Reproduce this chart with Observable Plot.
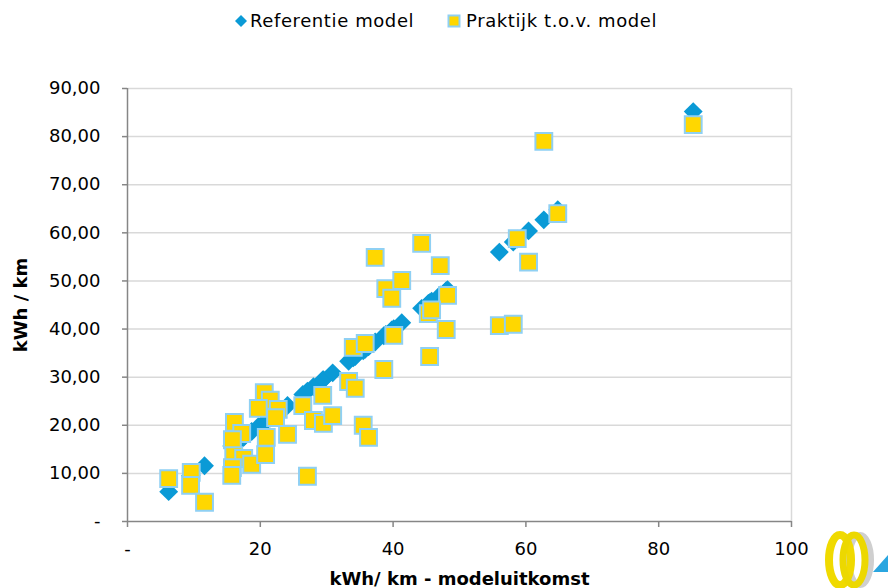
<!DOCTYPE html>
<html>
<head>
<meta charset="utf-8">
<script src="https://cdn.jsdelivr.net/npm/d3@7"></script>
<script src="https://cdn.jsdelivr.net/npm/@observablehq/plot@0.6"></script>
<style>
  html, body { margin: 0; padding: 0; background: #fff; }
  body { width: 889px; height: 588px; position: relative; overflow: hidden; font-family: "DejaVu Sans", sans-serif; }
  #legend { height: 44px; position: relative; font-size: 18px; letter-spacing: 0.6px; color: #000; }
  .item { position: absolute; top: 10px; display: flex; align-items: center; white-space: nowrap; }
  #logo { position: absolute; left: 818px; top: 522px; }
</style>
</head>
<body>
<div id="legend">
  <div class="item" style="left:234px"><svg width="14" height="14" style="margin-right:2px"><path d="M7,1 L13,7 L7,13 L1,7 Z" fill="#0a9ad6"/></svg><span>Referentie model</span></div>
  <div class="item" style="left:447px"><svg width="14" height="14" style="margin-right:5px"><rect x="1.5" y="1.5" width="11" height="11" fill="#ffd700" stroke="#8fd0f3" stroke-width="2"/></svg><span>Praktijk t.o.v. model</span></div>
</div>
<div id="chart"></div>
<svg id="logo" width="71" height="66" viewBox="0 0 71 66">
  <ellipse cx="42" cy="38" rx="11" ry="25" fill="none" stroke="#cfcfcf" stroke-width="6"/>
  <ellipse cx="22" cy="38" rx="11" ry="25" fill="none" stroke="#f0da00" stroke-width="8"/>
  <ellipse cx="36" cy="38" rx="11" ry="25" fill="none" stroke="#ecd800" stroke-width="7"/>
  <path d="M55,50 L70,33 L70,50 Z" fill="#2aa6e0"/>
</svg>
<script>
// Model outcome (x) for each vehicle, kWh/km
const modelValues = [6.2, 9.6, 9.5, 11.6, 16.1, 17.2, 15.8, 16.0, 17.5, 15.8, 15.7, 18.7,
  20.6, 21.5, 19.7, 22.7, 22.3, 20.9, 24.1, 20.8, 26.4, 29.4, 28.0, 29.5, 30.9,
  33.3, 34.3, 35.5, 36.3, 27.1, 34.0, 35.8, 38.6, 37.3, 38.9, 39.8, 41.3, 40.1,
  44.3, 47.1, 48.2, 45.3, 45.8, 48.0, 45.5, 62.7, 85.2, 64.8, 58.7, 60.4, 56.0, 58.1];
// Practice value for each vehicle, kWh/km
const practiceValues = [8.9, 10.2, 7.5, 4.0, 20.6, 18.3, 17.0, 13.7, 13.1, 11.2, 9.6, 11.9,
  26.8, 25.2, 23.5, 23.3, 21.6, 17.5, 18.1, 13.9, 24.1, 26.2, 21.0, 20.4, 22.0,
  29.1, 27.7, 20.0, 17.5, 9.4, 36.2, 37.0, 31.6, 54.9, 48.4, 46.4, 50.1, 38.7,
  57.8, 53.2, 47.0, 43.2, 44.0, 39.9, 34.3, 79.0, 82.5, 64.0, 58.8, 53.9, 40.7, 41.0];
const xTicks = [0, 20, 40, 60, 80, 100];
const yTicks = [0, 10, 20, 30, 40, 50, 60, 70, 80, 90];
const seriesNames = ["Referentie model", "Praktijk t.o.v. model"];
const xTitle = "kWh/ km - modeluitkomst";
const yTitle = "kWh / km";

const refData = modelValues.map(m => ({x: m, y: m}));
const pracData = modelValues.map((m, i) => ({x: m, y: practiceValues[i]}));

const fmtY = d => d === 0 ? "-" : d.toFixed(2).replace(".", ",");
const fmtX = d => d === 0 ? "-" : String(d);

const chart = Plot.plot({
  width: 889,
  height: 544,
  marginTop: 44,
  marginBottom: 67,
  marginLeft: 127,
  marginRight: 98,
  style: {fontFamily: "DejaVu Sans, sans-serif", fontSize: "18px", color: "#000", background: "#fff"},
  x: {domain: [0, 100]},
  y: {domain: [0, 90]},
  marks: [
    Plot.gridY(yTicks.filter(d => d > 0), {stroke: "#d9d9d9", strokeOpacity: 1, strokeWidth: 1.5}),
    Plot.ruleX([100], {stroke: "#d9d9d9", strokeWidth: 1.5}),
    Plot.axisY(yTicks, {tickFormat: fmtY, tickSize: 5, tickPadding: 22, stroke: "#868686", strokeWidth: 1.5, label: null, fill: "#000", fontSize: 18}),
    Plot.axisX(xTicks, {tickFormat: fmtX, tickSize: 6, tickPadding: 15, stroke: "#868686", strokeWidth: 1.5, label: null, fill: "#000", fontSize: 18}),
    Plot.ruleX([0], {stroke: "#868686", strokeWidth: 1.5}),
    Plot.ruleY([0], {stroke: "#868686", strokeWidth: 1.5}),
    Plot.dot(refData, {x: "x", y: "y", symbol: "diamond2", r: 8.5, fill: "#0a9ad6", stroke: "none"}),
    Plot.dot(pracData, {x: "x", y: "y", symbol: "square", r: 9.5, fill: "#ffd700", stroke: "#8fd0f3", strokeWidth: 2}),
    Plot.text([yTitle], {frameAnchor: "left", textAnchor: "middle", lineAnchor: "middle", rotate: -90, dx: -106, fontWeight: "bold", fontSize: 18, fill: "#000"}),
    Plot.text([xTitle], {frameAnchor: "bottom", textAnchor: "middle", lineAnchor: "bottom", dy: 63, fontWeight: "bold", fontSize: 18, fill: "#000"})
  ]
});
document.getElementById("chart").appendChild(chart);
</script>
</body>
</html>
